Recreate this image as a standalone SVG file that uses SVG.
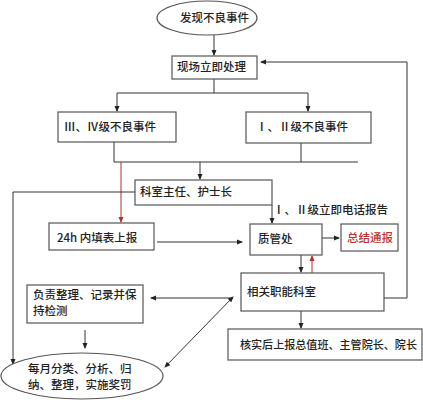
<svg xmlns="http://www.w3.org/2000/svg" width="423" height="400" viewBox="0 0 423 400">
<defs>
<marker id="ah" markerWidth="6" markerHeight="6" refX="5" refY="3" orient="auto" markerUnits="userSpaceOnUse">
<path d="M0,0.5 L6,3 L0,5.5 Z" fill="#222"/>
</marker>
<marker id="ahr" markerWidth="6" markerHeight="6" refX="5" refY="3" orient="auto" markerUnits="userSpaceOnUse">
<path d="M0,0.5 L6,3 L0,5.5 Z" fill="#b03030"/>
</marker>
<marker id="ahs" markerWidth="6" markerHeight="6" refX="1" refY="3" orient="auto" markerUnits="userSpaceOnUse">
<path d="M6,0.5 L0,3 L6,5.5 Z" fill="#222"/>
</marker>
</defs>
<style>
.b{fill:#fff;stroke:#555;stroke-width:1.2}
.t{font-family:"Noto Sans CJK SC","Liberation Serif",sans-serif;font-size:11.5px;fill:#222;font-weight:500}
.c{fill:none;stroke:#333;stroke-width:1}
.r{fill:none;stroke:#b03030;stroke-width:1}
</style>
<rect width="423" height="400" fill="#fff"/>
<g id="connectors">
<line class="c" x1="214" y1="35" x2="214" y2="55" marker-end="url(#ah)"/>
<polyline class="c" points="214,79 214,93"/>
<polyline class="c" points="117,93 308,93"/>
<line class="c" x1="117" y1="93" x2="117" y2="111" marker-end="url(#ah)"/>
<line class="c" x1="308" y1="93" x2="308" y2="111" marker-end="url(#ah)"/>
<polyline class="c" points="384,298 407,298 407,62 261,62" marker-end="url(#ah)"/>
<line class="c" x1="114" y1="142" x2="114" y2="162"/>
<line class="c" x1="301" y1="143" x2="301" y2="162"/>
<line class="c" x1="114" y1="162" x2="358" y2="162"/>
<line class="c" x1="200" y1="162" x2="200" y2="179" marker-end="url(#ah)"/>
<line class="r" x1="121" y1="162" x2="121" y2="222" marker-end="url(#ahr)"/>
<polyline class="c" points="135,192 13,192 13,364" marker-end="url(#ah)"/>
<line class="c" x1="272" y1="205" x2="272" y2="223" marker-end="url(#ah)"/>
<line class="c" x1="157" y1="242" x2="242" y2="242" marker-end="url(#ah)"/>
<line class="c" x1="322" y1="238" x2="339" y2="238" marker-end="url(#ah)"/>
<line class="c" x1="301" y1="255" x2="301" y2="272" marker-end="url(#ah)"/>
<line class="r" x1="312" y1="273" x2="312" y2="256" marker-end="url(#ahr)"/>
<line class="c" x1="301" y1="311" x2="301" y2="328" marker-end="url(#ah)"/>
<line class="c" x1="233" y1="298" x2="151" y2="298" marker-end="url(#ah)"/>
<line class="c" x1="233" y1="297" x2="165" y2="367" marker-start="url(#ahs)" marker-end="url(#ah)"/>
<line class="c" x1="85" y1="330" x2="85" y2="348" marker-end="url(#ah)"/>
<text class="t" x="273" y="214">Ⅰ、Ⅱ级立即电话报告</text>
</g>
<g id="n_discover">
<ellipse class="b" cx="207" cy="18" rx="50" ry="17"/>
<text class="t" x="180" y="22">发现不良事件</text>
</g>
<g id="n_onsite">
<rect class="b" x="172" y="56" width="85" height="23"/>
<text class="t" x="177" y="71">现场立即处理</text>
</g>
<g id="n_lvl34">
<rect class="b" x="58" y="112" width="118" height="30"/>
<text class="t" x="64" y="131">Ⅲ、Ⅳ级不良事件</text>
</g>
<g id="n_lvl12">
<rect class="b" x="246" y="112" width="125" height="31"/>
<text class="t" x="256" y="131">Ⅰ、Ⅱ级不良事件</text>
</g>
<g id="n_director">
<rect class="b" x="135" y="180" width="137" height="25"/>
<text class="t" x="140" y="196">科室主任、护士长</text>
</g>
<g id="n_24h">
<rect class="b" x="49" y="223" width="105" height="27"/>
<text class="t" x="57" y="242">24h 内填表上报</text>
</g>
<g id="n_qc">
<rect class="b" x="250" y="224" width="72" height="31"/>
<text class="t" x="258" y="243">质管处</text>
</g>
<g id="n_summary">
<rect class="b" x="341" y="224" width="57" height="27"/>
<text class="t" x="347" y="242" style="fill:#c03030">总结通报</text>
</g>
<g id="n_dept">
<rect class="b" x="241" y="273" width="143" height="38"/>
<text class="t" x="247" y="296">相关职能科室</text>
</g>
<g id="n_record">
<rect class="b" x="27" y="285" width="116" height="38"/>
<text class="t" x="33" y="299">负责整理、记录并保</text>
<text class="t" x="33" y="315">持检测</text>
</g>
<g id="n_verify">
<rect class="b" x="228" y="329" width="194" height="31"/>
<text class="t" x="240" y="349" textLength="177" lengthAdjust="spacingAndGlyphs">核实后上报总值班、主管院长、院长</text>
</g>
<g id="n_monthly">
<ellipse class="b" cx="82" cy="376" rx="81" ry="23"/>
<text class="t" x="28" y="373">每月分类、分析、归</text>
<text class="t" x="28" y="389">纳、整理，实施奖罚</text>
</g>
</svg>
